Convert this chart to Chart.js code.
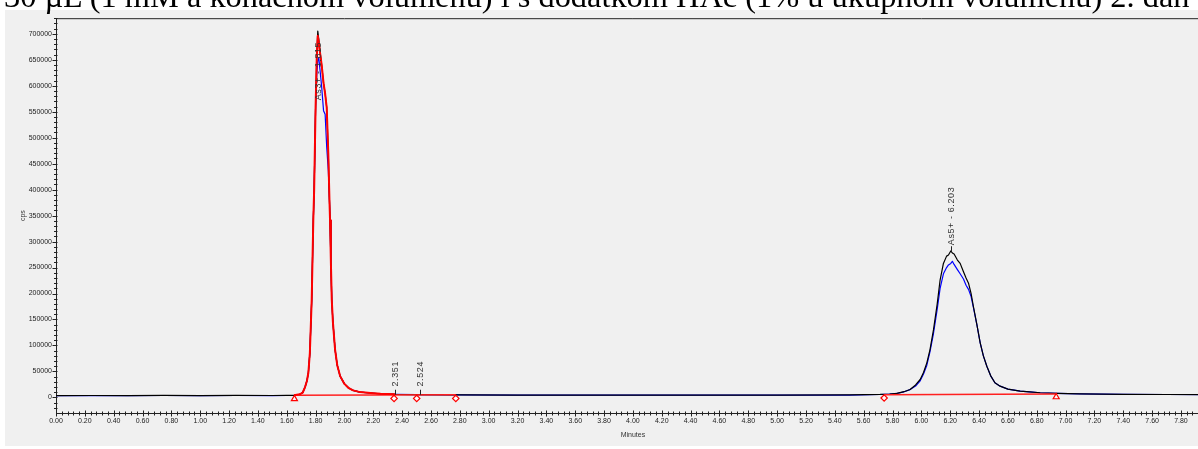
<!DOCTYPE html>
<html>
<head>
<meta charset="utf-8">
<script src="https://cdn.jsdelivr.net/npm/chart.js@4.4.0/dist/chart.umd.min.js"></script>
<style>
  html, body { margin: 0; padding: 0; background: #fff; overflow: hidden; width: 1198px; height: 449px; }
  #frame { position: absolute; left: 5px; top: 10px; width: 1210px; height: 436px; background: #f0f0f0; }
  #caption { position: absolute; left: 4px; top: 0; white-space: nowrap; font-family: 'Liberation Serif', 'Times New Roman', serif; color: #000; }
  canvas { display: block; }
</style>
</head>
<body>
<div id="frame"><canvas id="chromChart" width="1210" height="436"></canvas></div>
<div id="caption">30 µL (1 mM a konačnom volumenu) i s dodatkom HAc (1% u ukupnom volumenu) 2. dan</div>
<script>
// retention time (min) and detector signal (cps)
const blackTimes = [0.00, 0.25, 0.50, 0.75, 1.00, 1.25, 1.50, 1.60, 1.65, 1.69, 1.71, 1.727, 1.74, 1.75, 1.76, 1.773, 1.784, 1.79, 1.80, 1.808,
  1.815, 1.822, 1.83, 1.842, 1.855, 1.866, 1.877, 1.888, 1.896, 1.90, 1.906, 1.912, 1.92, 1.935, 1.95, 1.97, 2.00, 2.027, 2.06, 2.108,
  2.18, 2.25, 2.35, 2.50, 2.80, 3.20, 3.60, 4.00, 4.50, 5.00, 5.50, 5.714, 5.78, 5.83, 5.88, 5.922, 5.96, 5.992, 6.015, 6.038,
  6.06, 6.084, 6.11, 6.13, 6.153, 6.175, 6.188, 6.204, 6.215, 6.227, 6.25, 6.269, 6.292, 6.31, 6.327, 6.345, 6.361, 6.385, 6.408, 6.43,
  6.454, 6.48, 6.51, 6.546, 6.60, 6.685, 6.75, 6.824, 6.94, 7.10, 7.40, 7.70, 8.00];
const blackCps = [3500, 3700, 3600, 3800, 3600, 3800, 3700, 3800, 4000, 6000, 9000, 20000, 32000, 48000, 85000, 188000, 341000, 400000, 560000, 660000,
  705000, 690000, 668000, 640000, 605000, 585000, 558000, 470000, 380000, 341000, 260000, 188000, 145000, 92000, 62000, 41000, 26000, 18600, 13500, 10200,
  8500, 7000, 6000, 5500, 4800, 4600, 4500, 4400, 4400, 4500, 4700, 5700, 6500, 7700, 11000, 15300, 24000, 34500, 48000, 66500,
  92000, 130000, 180000, 226000, 258000, 272000, 274000, 282000, 278000, 276000, 264500, 258000, 242000, 230000, 220000, 200000, 175000, 140000, 105000, 80000,
  60000, 42000, 28200, 21700, 16000, 12000, 10500, 9000, 7700, 6800, 6000, 5600, 5400];
const blueCps = [3300, 3600, 3400, 3700, 3500, 3700, 3500, 3700, 4000, 6000, 9000, 20000, 32000, 48000, 85000, 188000, 341000, 400000, 560000, 620000,
  648000, 654000, 632000, 598000, 552000, 545000, 482000, 437000, 380000, 341000, 260000, 188000, 145000, 92000, 62000, 41000, 26000, 18600, 13500, 10200,
  8500, 7000, 6000, 5400, 4700, 4500, 4400, 4300, 4300, 4400, 4600, 5600, 6400, 7600, 10800, 15000, 22000, 32000, 45000, 62000,
  88000, 123000, 170000, 210000, 238000, 250000, 255000, 258000, 262000, 256000, 246000, 238000, 228000, 216000, 208000, 194000, 173000, 140000, 105000, 80000,
  60000, 42000, 28200, 21700, 16000, 12000, 10500, 9000, 7700, 6800, 6000, 5600, 5400];
const redTimes = [1.65, 1.69, 1.71, 1.727, 1.74, 1.75, 1.76, 1.773, 1.784, 1.79, 1.80, 1.808, 1.815, 1.822, 1.83, 1.842, 1.855, 1.866, 1.877, 1.888,
  1.896, 1.90, 1.906, 1.912, 1.92, 1.935, 1.95, 1.97, 2.00, 2.027, 2.06, 2.108, 2.18, 2.25, 2.35];
const redCps = [4300, 6000, 9000, 20000, 32000, 48000, 85000, 188000, 341000, 400000, 560000, 655000, 696000, 684000, 665000, 640000, 605000, 585000, 558000, 470000,
  380000, 341000, 260000, 188000, 145000, 92000, 62000, 41000, 26000, 18600, 13500, 10200, 8500, 7000, 6000];

// integration baselines
const baseStartTimes = [1.653, 5.742];
const baseStartCps = [4300, 5200];
const baseEndTimes = [2.772, 6.935];
const baseEndCps = [5200, 6500];
const triangleTimes = [1.653, 6.935];
const triangleCps = [-2800, 800];
const diamondTimes = [2.344, 2.501, 2.772, 5.742];
const diamondCps = [-1900, -1900, -1900, -1200];

// peak annotations
const peakTimes = [1.815, 2.351, 2.524, 6.203];
const peakTexts = ['As3+ - 1.815', '2.351', '2.524', 'As5+ - 6.203'];
const peakTickFrom = [null, 5200, 5200, 282000];
const peakTickTo = [null, 14800, 14800, 291000];
const peakTextFrom = [572000, 21000, 21000, 293000];

const xTickValues = [0.0, 0.2, 0.4, 0.6, 0.8, 1.0, 1.2, 1.4, 1.6, 1.8, 2.0, 2.2, 2.4, 2.6, 2.8, 3.0, 3.2, 3.4, 3.6, 3.8,
  4.0, 4.2, 4.4, 4.6, 4.8, 5.0, 5.2, 5.4, 5.6, 5.8, 6.0, 6.2, 6.4, 6.6, 6.8, 7.0, 7.2, 7.4, 7.6, 7.8];
const yTickValues = [0, 50000, 100000, 150000, 200000, 250000, 300000, 350000, 400000, 450000, 500000, 550000, 600000, 650000, 700000];
const xMinorStep = 0.04;
const yMinorStep = 10000;

// fit the cut-off caption line across the page
const caption = document.getElementById('caption');
const probe = document.createElement('canvas').getContext('2d');
probe.font = "26px 'Liberation Serif'";
const capSize = 26 * 1187 / probe.measureText(caption.textContent).width;
caption.style.fontSize = capSize + 'px';
caption.style.lineHeight = capSize + 'px';
caption.style.top = (7.5 - 0.8375 * capSize) + 'px';

const toPoints = (ts, vs) => ts.map((t, i) => ({ x: t, y: vs[i] }));

const axisDecor = {
  id: 'axisDecor',
  afterDraw(chart) {
    const { ctx, chartArea: a, scales: { x, y } } = chart;
    ctx.save();
    ctx.strokeStyle = '#222';
    ctx.lineWidth = 1;
    ctx.beginPath();
    ctx.moveTo(a.left, a.top + 0.5);
    ctx.lineTo(a.right, a.top + 0.5);
    for (let i = 0; i * xMinorStep <= x.max + 1e-9; i++) {
      const px = Math.round(x.getPixelForValue(i * xMinorStep)) + 0.5;
      const major = i % 5 === 0;
      ctx.moveTo(px, a.bottom - (major ? 2.5 : 1.5));
      ctx.lineTo(px, a.bottom + (major ? 3.5 : 2.5));
    }
    for (let v = -20000; v <= y.max; v += yMinorStep) {
      const py = Math.round(y.getPixelForValue(v)) + 0.5;
      const major = v % 50000 === 0;
      ctx.moveTo(a.left - (major ? 3.5 : 2), py);
      ctx.lineTo(a.left + 1.5, py);
    }
    ctx.stroke();
    ctx.restore();
  },
  afterDatasetsDraw(chart) {
    const { ctx, scales: { x, y } } = chart;
    ctx.save();
    ctx.strokeStyle = '#222';
    ctx.fillStyle = '#333';
    ctx.lineWidth = 1;
    ctx.font = "9px 'Liberation Sans', Arial, sans-serif";
    ctx.letterSpacing = '0.6px';
    peakTimes.forEach((t, i) => {
      const px = Math.round(x.getPixelForValue(t)) + 0.5;
      if (peakTickFrom[i] !== null) {
        ctx.beginPath();
        ctx.moveTo(px, y.getPixelForValue(peakTickFrom[i]));
        ctx.lineTo(px, y.getPixelForValue(peakTickTo[i]));
        ctx.stroke();
      }
      ctx.save();
      ctx.translate(px, y.getPixelForValue(peakTextFrom[i]));
      ctx.rotate(-Math.PI / 2);
      ctx.textAlign = 'left';
      ctx.textBaseline = 'middle';
      ctx.fillText(peakTexts[i], 0, 0);
      ctx.restore();
    });
    ctx.restore();
  }
};

const datasets = [
  {
    data: toPoints(triangleTimes, triangleCps), showLine: false,
    pointStyle: 'triangle', pointRadius: 3.5, pointBorderColor: '#ff0000', pointBackgroundColor: 'rgba(255,255,255,0.6)', pointBorderWidth: 1.2
  },
  {
    data: toPoints(diamondTimes, diamondCps), showLine: false,
    pointStyle: 'rectRot', pointRadius: 3.2, pointBorderColor: '#ff0000', pointBackgroundColor: 'rgba(255,255,255,0.8)', pointBorderWidth: 1.2
  },
  { data: toPoints(redTimes, redCps), borderColor: '#ff0000', borderWidth: 2 }
];
baseStartTimes.forEach((t, i) => {
  datasets.push({
    data: [{ x: t, y: baseStartCps[i] }, { x: baseEndTimes[i], y: baseEndCps[i] }],
    borderColor: '#ff2020', borderWidth: 1.6
  });
});
datasets.push({ data: toPoints(blackTimes, blackCps), borderColor: '#000000', borderWidth: 1.2 });
datasets.push({ data: toPoints(blackTimes, blueCps), borderColor: '#0000ff', borderWidth: 1.2 });

new Chart(document.getElementById('chromChart'), {
  type: 'line',
  data: { datasets },
  options: {
    responsive: false,
    animation: false,
    devicePixelRatio: 1,
    layout: { padding: { top: 8, right: 5, bottom: 0, left: 0 } },
    elements: { point: { radius: 0 }, line: { tension: 0, borderJoinStyle: 'round' } },
    plugins: { legend: { display: false }, tooltip: { enabled: false } },
    scales: {
      x: {
        type: 'linear',
        min: 0,
        max: 8,
        afterBuildTicks: s => { s.ticks = xTickValues.map(v => ({ value: v })); },
        afterFit: s => { s.height = 33; },
        grid: { display: false, drawTicks: false },
        border: { color: '#222', width: 1 },
        ticks: {
          autoSkip: false, maxRotation: 0, padding: 4, color: '#222',
          font: { family: "'Liberation Sans', Arial, sans-serif", size: 7 },
          callback: v => Number(v).toFixed(2)
        },
        title: {
          display: true, text: 'Minutes', color: '#333',
          font: { family: "'Liberation Sans', Arial, sans-serif", size: 7 },
          padding: { top: 0, bottom: 7 }
        }
      },
      y: {
        min: -30000,
        max: 730000,
        afterBuildTicks: s => { s.ticks = yTickValues.map(v => ({ value: v })); },
        afterFit: s => { s.width = 51; },
        grid: { display: false, drawTicks: false },
        border: { color: '#222', width: 1 },
        ticks: {
          padding: 4, color: '#222',
          font: { family: "'Liberation Sans', Arial, sans-serif", size: 7 },
          callback: v => String(v)
        },
        title: {
          display: true, text: 'cps', color: '#333',
          font: { family: "'Liberation Sans', Arial, sans-serif", size: 7 },
          padding: { top: 14, bottom: 0 }
        }
      }
    }
  },
  plugins: [axisDecor]
});
</script>
</body>
</html>
